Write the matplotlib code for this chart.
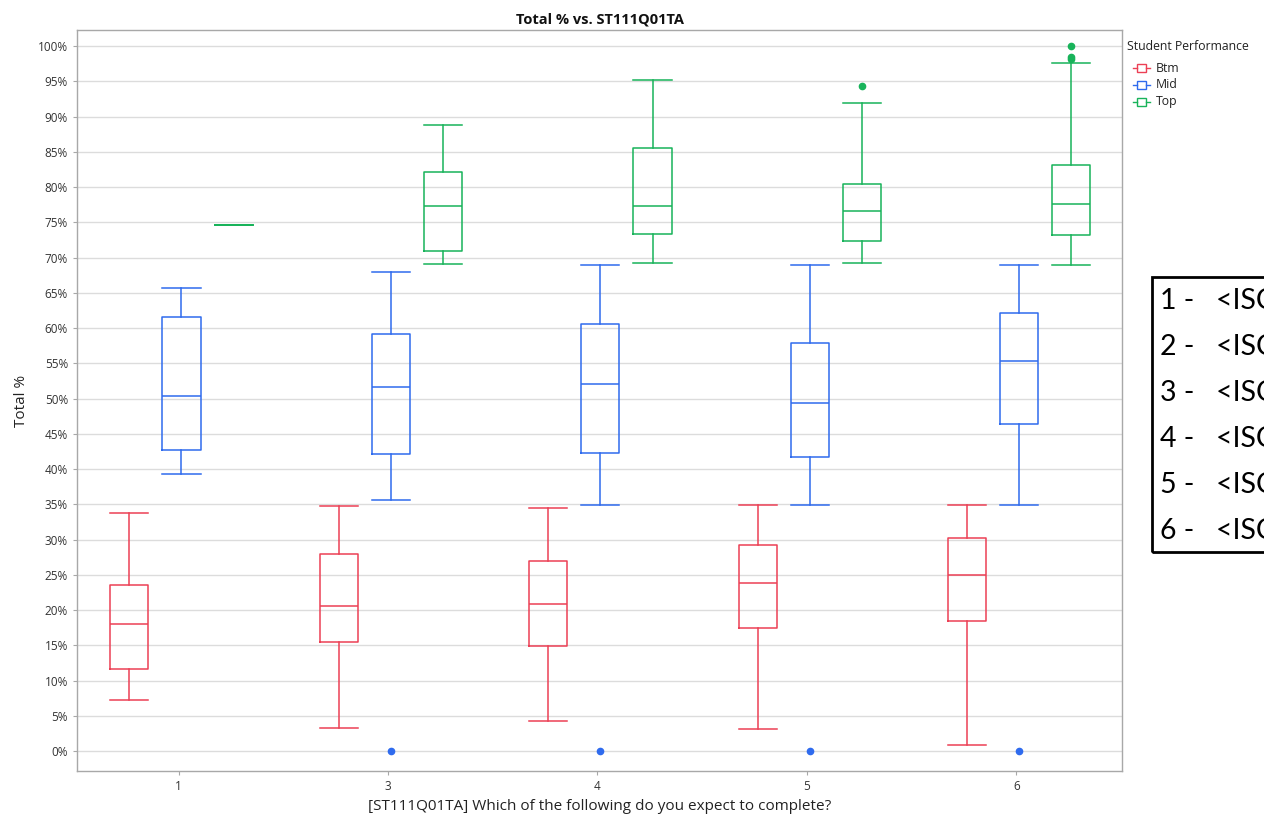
import matplotlib
matplotlib.use("Agg")
import matplotlib.pyplot as plt
from matplotlib.patches import Rectangle
from matplotlib.lines import Line2D

plt.rcParams["font.family"] = ["Open Sans", "DejaVu Sans"]

# Response categories present in the data (category 2 has no responses)
categories = ["1", "3", "4", "5", "6"]
groups = ["Btm", "Mid", "Top"]
colors = {"Btm": "#EC4055", "Mid": "#2F6BEE", "Top": "#18B35A"}

# Five-number summaries of Total % per group (low whisker, Q1, median, Q3, high whisker)
btm_low = [7.3, 3.3, 4.2, 3.1, 0.9]
btm_q1 = [11.7, 15.4, 14.9, 17.5, 18.5]
btm_med = [18.0, 20.6, 20.9, 23.8, 25.0]
btm_q3 = [23.5, 27.9, 27.0, 29.2, 30.2]
btm_high = [33.7, 34.7, 34.5, 34.9, 34.9]
btm_out = [[], [], [], [], []]

mid_low = [39.3, 35.6, 34.9, 34.9, 34.9]
mid_q1 = [42.7, 42.1, 42.3, 41.7, 46.4]
mid_med = [50.3, 51.6, 52.1, 49.4, 55.3]
mid_q3 = [61.6, 59.2, 60.6, 57.9, 62.2]
mid_high = [65.7, 67.9, 69.0, 69.0, 69.0]
mid_out = [[], [0.0], [0.0], [0.0], [0.0]]

top_low = [74.6, 69.1, 69.2, 69.2, 69.0]
top_q1 = [74.6, 71.0, 73.4, 72.3, 73.2]
top_med = [74.6, 77.3, 77.3, 76.6, 77.6]
top_q3 = [74.6, 82.2, 85.5, 80.5, 83.1]
top_high = [74.6, 88.8, 95.2, 92.0, 97.6]
top_out = [[], [], [], [94.4], [98.2, 98.5, 100.0]]

series = {
    "Btm": (btm_low, btm_q1, btm_med, btm_q3, btm_high, btm_out),
    "Mid": (mid_low, mid_q1, mid_med, mid_q3, mid_high, mid_out),
    "Top": (top_low, top_q1, top_med, top_q3, top_high, top_out),
}
offsets = {"Btm": -0.235, "Mid": 0.014, "Top": 0.263}
box_w = 0.182

fig = plt.figure(figsize=(12.64, 8.14), dpi=100)
ax = fig.add_axes([0.0609, 0.0528, 0.8268, 0.9102])

for g in groups:
    lo, q1, med, q3, hi, out = series[g]
    stats = []
    for i in range(len(categories)):
        stats.append(dict(whislo=lo[i], q1=q1[i], med=med[i], q3=q3[i],
                          whishi=hi[i], fliers=out[i]))
    pos = [i + offsets[g] for i in range(len(categories))]
    c = colors[g]
    ax.bxp(stats, positions=pos, widths=box_w, capwidths=box_w,
           showfliers=True, manage_ticks=False,
           boxprops=dict(color=c, linewidth=1.1),
           whiskerprops=dict(color=c, linewidth=1.1),
           capprops=dict(color=c, linewidth=1.1),
           medianprops=dict(color=c, linewidth=1.1),
           flierprops=dict(marker="o", markersize=4.5, markerfacecolor=c,
                           markeredgecolor=c, linestyle="none"))

ax.set_xlim(-0.485, 4.505)
ax.set_ylim(-2.84, 102.27)
ax.set_xticks(range(len(categories)))
ax.set_xticklabels(categories)
yt = list(range(0, 101, 5))
ax.set_yticks(yt)
ax.set_yticklabels([f"{v}%" for v in yt])
ax.grid(axis="y", color="#DCDCDC", linewidth=1.0)
ax.set_axisbelow(True)
for s in ax.spines.values():
    s.set_color("#A8A8A8")
    s.set_linewidth(1.0)
ax.tick_params(axis="both", labelsize=8.5, colors="#A8A8A8", labelcolor="#333333",
               length=3, width=0.8)
ax.set_ylabel("Total %", fontsize=11, color="#222222", labelpad=6)
ax.set_xlabel("[ST111Q01TA] Which of the following do you expect to complete?",
              fontsize=11, color="#222222", labelpad=4)
ax.set_title("Total % vs. ST111Q01TA", fontsize=10.5, fontweight="bold",
             color="#111111", pad=5)

# Legend drawn as small box glyphs in figure pixels
W, H = 1264.0, 814.0
fig.text(1127 / W, 1 - 46 / H, "Student Performance", fontsize=8.8,
         color="#222222", va="center", ha="left")
for k, g in enumerate(groups):
    yc = 1 - (68 + 17 * k) / H
    c = colors[g]
    fig.add_artist(Rectangle((1137 / W, yc - 4 / H), 9 / W, 8 / H, fill=False,
                             edgecolor=c, linewidth=1.0, transform=fig.transFigure))
    fig.add_artist(Line2D([1133 / W, 1137 / W], [yc, yc], color=c, linewidth=1.0,
                          transform=fig.transFigure))
    fig.add_artist(Line2D([1146 / W, 1150 / W], [yc, yc], color=c, linewidth=1.0,
                          transform=fig.transFigure))
    fig.text(1156 / W, yc, g, fontsize=8.8, color="#222222", va="center", ha="left")

# Category key box at the right edge
fig.add_artist(Rectangle((1152 / W, 1 - 552 / H), 200 / W, 275 / H, fill=False,
                         edgecolor="black", linewidth=2.0, transform=fig.transFigure))
key_labels = ["1 -  <ISCED level 2>", "2 -  <ISCED level 3B or C>",
              "3 -  <ISCED level 3A>", "4 -  <ISCED level 4>",
              "5 -  <ISCED level 5B>", "6 -  <ISCED level 5A or 6>"]
for k, t in enumerate(key_labels):
    fig.text(1160 / W, 1 - (301 + 46 * k) / H, t.replace("-  ", "-   "),
             fontsize=20.5, color="black",
             va="center", ha="left", family=["Lato", "DejaVu Sans"])

fig.savefig("out.png", dpi=100)
